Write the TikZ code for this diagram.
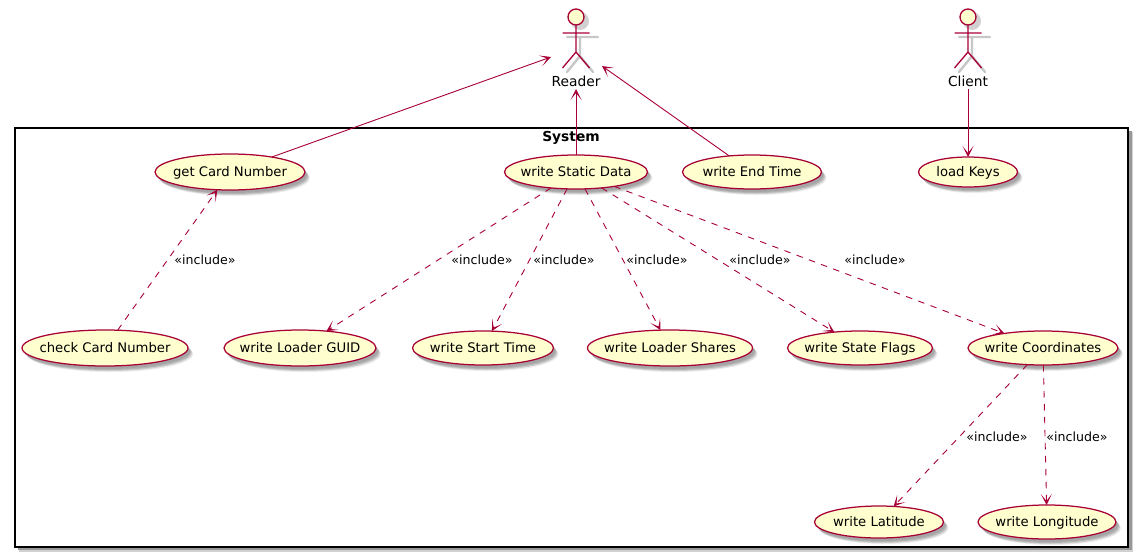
\documentclass[tikz,border=0pt]{standalone}
\usepackage{fontspec}
\setmainfont{DejaVu Sans}
\usetikzlibrary{arrows.meta,shapes.geometric,shadows}
\definecolor{umlfill}{HTML}{FEFECE}
\definecolor{umlline}{HTML}{A80036}
\tikzset{
  softshadow/.style={
    general shadow={shadow xshift=2pt,shadow yshift=-3pt,fill=black,opacity=.08},
    general shadow={shadow xshift=3pt,shadow yshift=-4pt,fill=black,opacity=.12},
    general shadow={shadow xshift=4pt,shadow yshift=-5pt,fill=black,opacity=.12},
    general shadow={shadow xshift=5pt,shadow yshift=-6pt,fill=black,opacity=.08}
  },
  usecase/.style={ellipse,draw=umlline,fill=umlfill,line width=1.25pt,inner sep=-25pt,outer sep=0pt,
    minimum height=36pt,text height=10pt,text depth=1pt,font=\fontsize{13.2}{15}\selectfont,softshadow},
  incl/.style={font=\fontsize{12.6}{14}\selectfont,inner sep=0pt,text=black},
  actorlabel/.style={font=\fontsize{13.8}{15}\selectfont,inner sep=0pt,minimum height=16pt,outer sep=0pt},
  rel/.style={draw=umlline,line width=.9pt,-{Stealth[length=11pt,width=11pt,inset=7pt]}},
  dep/.style={rel,dash pattern=on 6.5pt off 6.5pt},
  actline/.style={draw=umlline,line width=1.3pt},
  actshadow/.style={draw=black!22,line width=2.4pt,line cap=round},
  sysbox/.style={draw=black,line width=1.1pt,fill=white}
}
\newcommand{\stickman}[2]{%
  \begin{scope}[shift={(#1,0)}]
    \fill[black!18] (4,21) circle (9);
    \draw[actshadow] (4,37) -- (4,56) (-9,37) -- (22,37) (4,56) -- (-9,72) (4,56) -- (17,72);
    \draw[actline,fill=umlfill] (0,17) circle (8);
    \draw[actline] (0,25) -- (0,52) (-13.5,33) -- (13.5,33) (0,52) -- (-13.5,68) (0,52) -- (13.5,68);
    \coordinate (#2) at (0,0);
  \end{scope}}
\begin{document}
\begin{tikzpicture}[x=1pt,y=-1pt]
\useasboundingbox (0,0) rectangle (1138,557);
\fill[white] (0,0) rectangle (1138,557);
% system box
\fill[black!18] (19,132) rectangle (1133,551.5);
\fill[black!40] (18,131) rectangle (1131.5,549.5);
\node[sysbox,minimum width=1113pt,minimum height=419pt,inner sep=0pt,outer sep=0pt] (sys) at (571.5,337.5) {};
\node[font=\fontsize{13.8}{15}\selectfont\bfseries,inner sep=0pt] (systitle) at (571,138) {System};
% actors
\stickman{576}{readeractor}
\stickman{968}{clientactor}
\node[actorlabel] (reader) at (576,81) {Reader};
\node[actorlabel] (client) at (968,81) {Client};
\coordinate (readerleft) at (551,57);
\coordinate (readerright) at (602,66);
% use cases
\node[usecase,minimum width=150pt] (gc) at (230,172) {get Card Number};
\node[usecase,minimum width=143pt,minimum height=34pt] (ws) at (576,172) {write Static Data};
\node[usecase,minimum width=139pt,minimum height=34pt] (we) at (752,172) {write End Time};
\node[usecase,minimum width=99pt,minimum height=30pt] (lk) at (968,172) {load Keys};
\node[usecase,minimum width=166pt] (cc) at (105,348) {check Card Number};
\node[usecase,minimum width=152pt] (wg) at (300,348) {write Loader GUID};
\node[usecase,minimum width=141pt,minimum height=34pt] (wt) at (483,348) {write Start Time};
\node[usecase,minimum width=165pt] (wl) at (670,348) {write Loader Shares};
\node[usecase,minimum width=145pt,minimum height=34pt] (wf) at (860,348) {write State Flags};
\node[usecase,minimum width=150pt,minimum height=34pt] (wc) at (1043,348) {write Coordinates};
\node[usecase,minimum width=129pt,minimum height=32pt] (la) at (879,522) {write Latitude};
\node[usecase,minimum width=138pt,minimum height=34pt] (lo) at (1047,522) {write Longitude};
% connectors
\draw[rel] (gc) -- (readerleft);
\draw[rel] (ws) -- (reader.south);
\draw[rel] (we) -- (readerright);
\draw[rel] (client.south) -- (lk);
\draw[dep] (cc) -- (gc);
\draw[dep] (ws) -- (wg);
\draw[dep] (ws) -- (wt);
\draw[dep] (ws) -- (wl);
\draw[dep] (ws) -- (wf);
\draw[dep] (ws) -- (wc);
\draw[dep] (wc) -- (la);
\draw[dep] (wc) -- (lo);
% labels
\node[incl] (l1) at (205,260) {«include»};
\node[incl] (l2) at (482,260) {«include»};
\node[incl] (l3) at (564,260) {«include»};
\node[incl] (l4) at (657,260) {«include»};
\node[incl] (l5) at (760,260) {«include»};
\node[incl] (l6) at (875,260) {«include»};
\node[incl] (l7) at (997,437) {«include»};
\node[incl] (l8) at (1077,437) {«include»};
\end{tikzpicture}
\end{document}
